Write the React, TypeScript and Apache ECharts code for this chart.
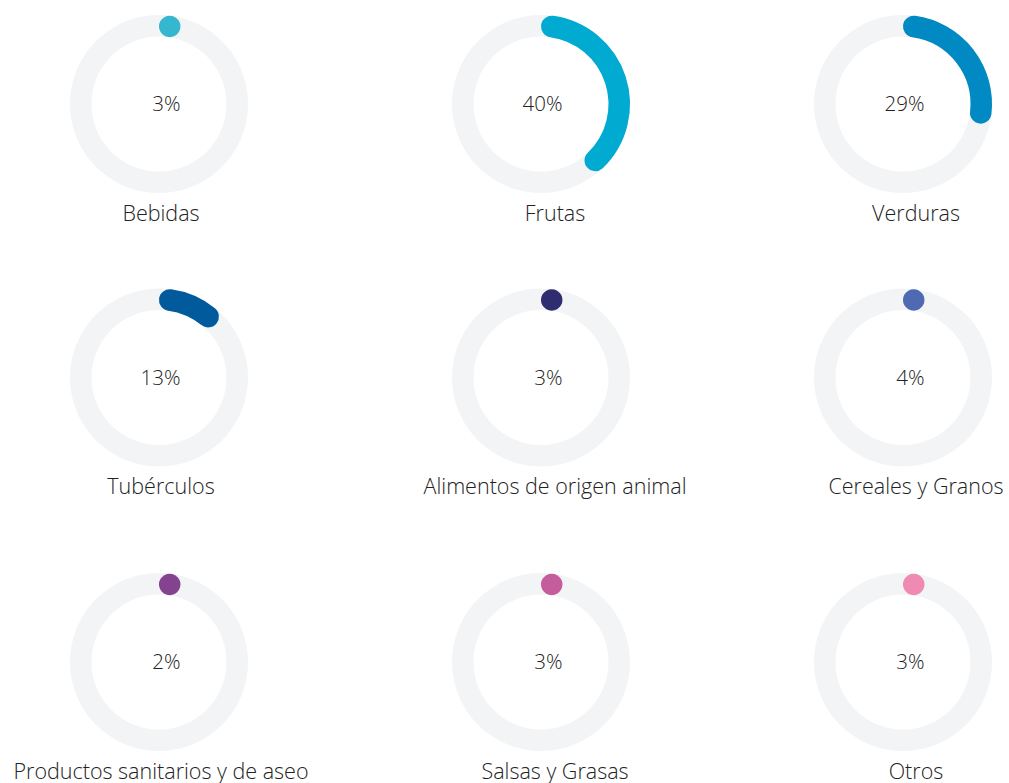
import React, { useEffect, useRef } from "react";
import * as echarts from "echarts";

const categories = [
  "Bebidas",
  "Frutas",
  "Verduras",
  "Tubérculos",
  "Alimentos de origen animal",
  "Cereales y Granos",
  "Productos sanitarios y de aseo",
  "Salsas y Grasas",
  "Otros",
];
const values = [3, 40, 29, 13, 3, 4, 2, 3, 3];
const colors = [
  "#35b8cf",
  "#00aad0",
  "#0089c2",
  "#005a9c",
  "#2f2d6f",
  "#4f69b2",
  "#84438e",
  "#c55c9c",
  "#ef8ab3",
];

const colCenters = [159, 541, 903];
const rowCenters = [104, 377.5, 662];
const labelCenters = [161, 555, 916];
const R_OUT = 89;
const R_IN = 67.5;
const TRACK = "#f3f4f6";
const FONT = "'Open Sans', Lato, sans-serif";

export default function App() {
  const ref = useRef<HTMLDivElement>(null);
  useEffect(() => {
    const chart = echarts.init(ref.current!, undefined, { renderer: "svg" });
    const polar: any[] = [];
    const angleAxis: any[] = [];
    const radiusAxis: any[] = [];
    const series: any[] = [];
    categories.forEach((name, i) => {
      const col = i % 3;
      const row = Math.floor(i / 3);
      polar.push({ center: [colCenters[col], rowCenters[row]], radius: [R_IN, R_OUT] });
      angleAxis.push({
        polarIndex: i,
        type: "value",
        min: 0,
        max: 100,
        startAngle: 90,
        clockwise: true,
        show: false,
      });
      radiusAxis.push({ polarIndex: i, type: "value", min: 0, max: 1, show: false });
      series.push({
        type: "custom",
        coordinateSystem: "polar",
        polarIndex: i,
        data: [[1, values[i]]],
        renderItem: (params: any, api: any) => {
          const cs = params.coordSys;
          const cx = cs.cx;
          const cy = cs.cy;
          const r = cs.r;
          const r0 = cs.r0;
          const p0 = api.coord([1, 0]);
          const p1 = api.coord([1, api.value(1)]);
          const s = Math.atan2(p0[1] - cy, p0[0] - cx);
          let e = Math.atan2(p1[1] - cy, p1[0] - cx);
          if (e < s) e += Math.PI * 2;
          const rMid = (r + r0) / 2;
          const w = r - r0;
          const cap = w / 2 / rMid;
          const children: any[] = [
            { type: "ring", shape: { cx, cy, r, r0 }, style: { fill: TRACK } },
          ];
          if (e - s > 2 * cap) {
            children.push({
              type: "arc",
              shape: { cx, cy, r: rMid, startAngle: s + cap, endAngle: e - cap, clockwise: true },
              style: { stroke: colors[i], lineWidth: w, lineCap: "round", fill: null },
            });
          } else {
            const a = s + cap;
            children.push({
              type: "circle",
              shape: { cx: cx + rMid * Math.cos(a), cy: cy + rMid * Math.sin(a), r: w / 2 },
              style: { fill: colors[i] },
            });
          }
          children.push({
            type: "text",
            style: {
              text: api.value(1) + "%",
              x: cx + 21.5,
              y: cy - 1,
              align: "right",
              verticalAlign: "middle",
              fontSize: 20.5,
              fontWeight: 300,
              fontFamily: FONT,
              fill: "#222",
            },
          });
          children.push({
            type: "text",
            style: {
              text: name,
              x: labelCenters[col],
              y: cy + 108,
              align: "center",
              verticalAlign: "middle",
              fontSize: 21.5,
              fontWeight: 300,
              fontFamily: FONT,
              fill: "#222",
            },
          });
          return { type: "group", children };
        },
      });
    });
    chart.setOption({
      animation: false,
      polar,
      angleAxis,
      radiusAxis,
      series,
    });
    return () => chart.dispose();
  }, []);
  return (
    <div
      ref={ref}
      style={{ position: "absolute", left: 0, top: 0, width: 1009, height: 783 }}
    />
  );
}
